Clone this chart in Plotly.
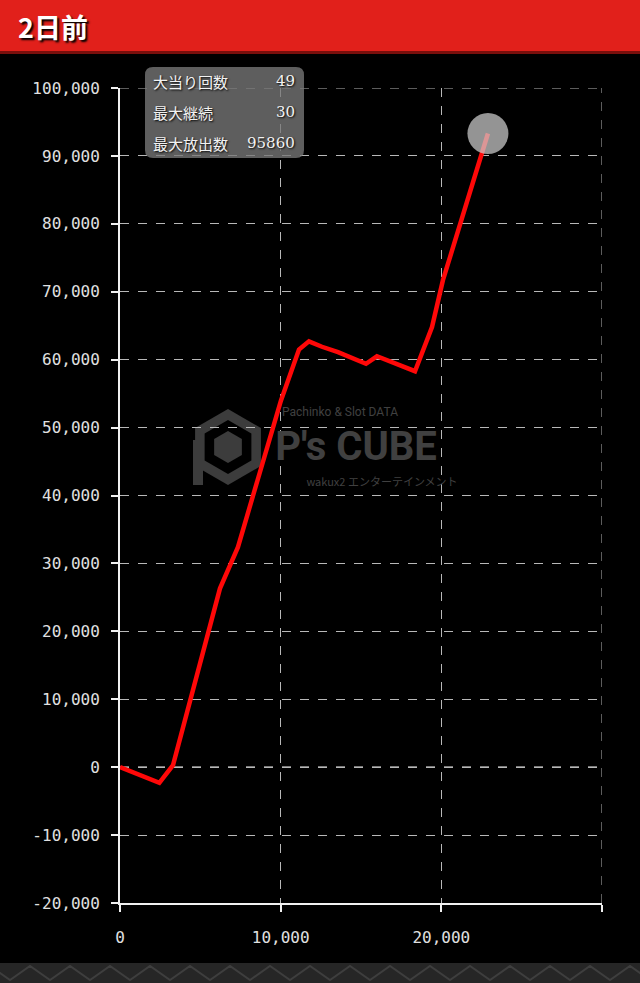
import plotly.graph_objects as go
import math

# ---- data ----
games = [0, 2450, 3300, 6220, 7340, 8590, 10020, 11140, 11760, 12570, 13570, 15310, 15990, 18360, 19420, 20100, 22900]
balance = [0, -2300, 300, 26300, 32400, 42300, 54000, 61500, 62700, 61900, 61100, 59400, 60500, 58300, 64800, 71700, 93300]
stat_labels = ["大当り回数", "最大継続", "最大放出数"]
stat_values = ["49", "30", "95860"]
title_text = "2日前"
y_ticks = [-20000, -10000, 0, 10000, 20000, 30000, 40000, 50000, 60000, 70000, 80000, 90000, 100000]
x_ticks = [0, 10000, 20000, 30000]
x_ticklabels = ["0", "10,000", "20,000", ""]

# ---- pixel helpers (plot area 120..602 x 88..903) ----
L, R, T, B = 120, 602, 88, 903
W, H = R - L, B - T
def px(x):
    return (x - L) / W
def py(y):
    return (B - y) / H

fig = go.Figure()

# watermark text (drawn before the line so the line is on top)
fig.add_trace(go.Scatter(
    x=[px(356), px(340), px(382)], y=[py(450), py(413), py(483)],
    xaxis="x2", yaxis="y2", mode="text",
    text=["<b>P's CUBE</b>", "Pachinko &amp; Slot DATA", "wakux2 エンターテインメント"],
    textfont=dict(family=["Roboto", "Roboto", "Noto Sans CJK JP"], size=[40, 12, 11], color="#404040"),
    hoverinfo="skip", showlegend=False))

fig.add_trace(go.Scatter(
    x=games, y=balance, mode="lines",
    line=dict(color="#ff0808", width=4.5),
    hoverinfo="skip", showlegend=False))

fig.add_trace(go.Scatter(
    x=[games[-1]], y=[balance[-1]], mode="markers",
    marker=dict(size=41, color="rgba(205,205,205,0.72)", line=dict(width=0)),
    hoverinfo="skip", showlegend=False))

axis_common = dict(
    showline=True, linecolor="#f0f0f0", linewidth=2,
    ticks="outside", ticklen=7, tickwidth=2, tickcolor="#f0f0f0",
    showgrid=True, gridcolor="#b8b8b8", gridwidth=1, griddash="dash",
    zeroline=False,
    tickfont=dict(family="DejaVu Sans Mono", size=16, color="#e0e0e0"),
    fixedrange=True,
)

fig.update_layout(
    width=640, height=983,
    margin=dict(l=L, r=640 - R, t=T, b=983 - B, pad=0),
    paper_bgcolor="#000000", plot_bgcolor="#000000",
    xaxis=dict(range=[0, 30000], tickvals=x_ticks, ticktext=x_ticklabels,
               ticklabelstandoff=12, **axis_common),
    yaxis=dict(range=[-20000, 100000], tickvals=y_ticks, ticktext=[f"{v:,}" for v in y_ticks],
               ticklabelstandoff=8, **axis_common),
    xaxis2=dict(range=[0, 1], overlaying="x", visible=False, fixedrange=True),
    yaxis2=dict(range=[0, 1], overlaying="y", visible=False, fixedrange=True),
)

shapes = []
# zero line (bright dashed)
shapes.append(dict(type="line", xref="x", yref="y", x0=0, x1=30000, y0=0, y1=0,
                   line=dict(color="#f4f4f4", width=1.5, dash="dash"), layer="below"))
# edge gridlines (right and top)
shapes.append(dict(type="line", xref="x", yref="y", x0=30000, x1=30000, y0=-20000, y1=100000,
                   line=dict(color="#b8b8b8", width=1, dash="dash"), layer="below"))
shapes.append(dict(type="line", xref="x", yref="y", x0=0, x1=30000, y0=100000, y1=100000,
                   line=dict(color="#b8b8b8", width=1, dash="dash"), layer="below"))
# header bar
shapes.append(dict(type="rect", xref="paper", yref="paper", x0=px(-5), x1=px(645), y0=py(52), y1=py(-5),
                   fillcolor="#e1201b", line=dict(width=0), layer="above"))
shapes.append(dict(type="rect", xref="paper", yref="paper", x0=px(-5), x1=px(645), y0=py(54), y1=py(51),
                   fillcolor="#7a0f0c", line=dict(width=0), layer="above"))
# bottom strip
shapes.append(dict(type="rect", xref="paper", yref="paper", x0=px(-5), x1=px(645), y0=py(990), y1=py(963),
                   fillcolor="#262626", line=dict(width=0), layer="above"))
zig = "M %f %f" % (px(-10), py(966))
xx = -10
while xx < 660:
    zig += " L %f %f L %f %f" % (px(xx + 20), py(980), px(xx + 40), py(966))
    xx += 40
shapes.append(dict(type="path", xref="paper", yref="paper", path=zig,
                   line=dict(color="#3e3e3e", width=2), layer="above"))

# watermark hexagon logo
def hexpath(cx, cy, r):
    pts = []
    for k in range(6):
        a = math.radians(90 + 60 * k)
        pts.append((cx + r * math.cos(a), cy - r * math.sin(a)))
    return "M " + " L ".join("%f %f" % (px(a), py(b)) for a, b in pts) + " Z"
shapes.append(dict(type="path", xref="paper", yref="paper", path=hexpath(228, 447, 38),
                   fillcolor="#3c3c3c", line=dict(width=0), layer="below"))
shapes.append(dict(type="path", xref="paper", yref="paper", path=hexpath(228, 447, 27),
                   fillcolor="#000000", line=dict(width=0), layer="below"))
shapes.append(dict(type="path", xref="paper", yref="paper", path=hexpath(228, 447, 16),
                   fillcolor="#3c3c3c", line=dict(width=0), layer="below"))
shapes.append(dict(type="rect", xref="paper", yref="paper", x0=px(193), x1=px(203), y0=py(485), y1=py(440),
                   fillcolor="#3c3c3c", line=dict(width=0), layer="below"))

# info box (rounded)
bx0, bx1, by0, by1, rr = 145, 304, 67, 158, 8
box = ("M {a} {b} L {c} {b} Q {r} {b} {r} {d} L {r} {e} Q {r} {f} {c} {f} L {a} {f} "
       "Q {l} {f} {l} {e} L {l} {d} Q {l} {b} {a} {b} Z").format(
    a=px(bx0 + rr), c=px(bx1 - rr), b=py(by0), d=py(by0 + rr), e=py(by1 - rr), f=py(by1),
    l=px(bx0), r=px(bx1))
shapes.append(dict(type="path", xref="paper", yref="paper", path=box,
                   fillcolor="rgba(120,120,120,0.78)", line=dict(width=0), layer="above"))
fig.update_layout(shapes=shapes)

ann = []
ann.append(dict(xref="paper", yref="paper", x=px(16), y=py(27), xanchor="left", yanchor="middle",
                text="<b>" + title_text + "</b>", showarrow=False,
                font=dict(family="Noto Sans CJK JP", size=27, color="#ffffff", shadow="2px 2px 2px #000")))
row_y = [81, 112, 143]
for lab, val, yy in zip(stat_labels, stat_values, row_y):
    ann.append(dict(xref="paper", yref="paper", x=px(151), y=py(yy), xanchor="left", yanchor="middle",
                    text=lab, showarrow=False,
                    font=dict(family="Noto Sans CJK JP", size=15, color="#f2f2f2", shadow="1px 1px 2px #000")))
    ann.append(dict(xref="paper", yref="paper", x=px(297), y=py(yy), xanchor="right", yanchor="middle",
                    text=val, showarrow=False,
                    font=dict(family="DejaVu Serif", size=15, color="#f2f2f2", shadow="1px 1px 2px #000")))
fig.update_layout(annotations=ann)

fig.write_html("out.html", config={"displayModeBar": False},
               post_script="document.body.style.margin='0px';document.body.style.background='#000';")
